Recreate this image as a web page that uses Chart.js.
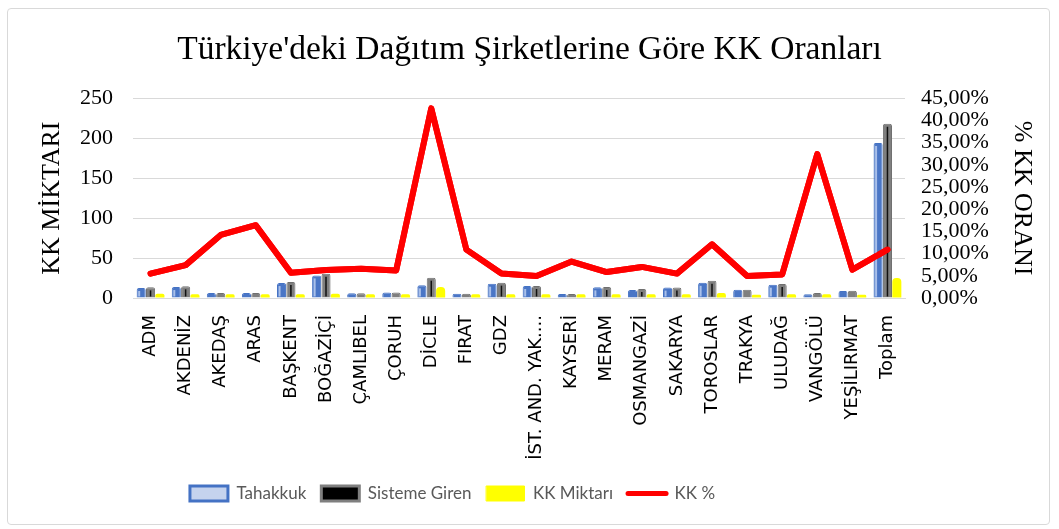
<!DOCTYPE html>
<html>
<head>
<meta charset="utf-8">
<title>KK Oranları</title>
<script src="https://cdn.jsdelivr.net/npm/chart.js@4.4.1/dist/chart.umd.min.js"></script>
<style>
  body { margin: 0; background: #fff; }
  #wrap { position: relative; width: 1059px; height: 529px; }
  #frame {
    position: absolute; left: 7px; top: 8px; width: 1041px; height: 515px;
    border: 1px solid #d9d9d9; border-radius: 4px; pointer-events: none;
  }
</style>
</head>
<body>
<div id="wrap">
  <canvas id="grafik" width="1059" height="529"></canvas>
  <div id="frame"></div>
</div>
<script>
// Şirketler (x ekseni)
const sirketler = ['ADM', 'AKDENİZ', 'AKEDAŞ', 'ARAS', 'BAŞKENT', 'BOĞAZİÇİ', 'ÇAMLIBEL', 'ÇORUH',
  'DİCLE', 'FIRAT', 'GDZ', 'İST. AND. YAK....', 'KAYSERİ', 'MERAM', 'OSMANGAZİ', 'SAKARYA',
  'TOROSLAR', 'TRAKYA', 'ULUDAĞ', 'VANGÖLÜ', 'YEŞİLIRMAT', 'Toplam'];

// Değerler (resimden okunan tahmini değerler)
const tahakkuk     = [12.5, 13.7, 6.2, 6.2, 18.7, 28.3, 5.8, 7, 15.8, 5.4, 17.9, 15, 5, 13.3, 10, 13, 19, 10.4, 16.7, 4.6, 8.7, 194];
const sistemeGiren = [13.3, 14.6, 6.2, 6.2, 20, 30.4, 5.8, 7, 25.4, 5.4, 19.2, 15, 5, 13.7, 11.2, 13, 21.7, 10.4, 17.5, 6.2, 9.2, 218];
const kkMiktari    = [5.4, 4.6, 4.6, 4.6, 4.6, 5.4, 4.6, 4.6, 13.7, 4.6, 4.6, 4.6, 4.6, 4.6, 4.6, 4.6, 6.2, 4.2, 4.6, 4.6, 4.2, 25];
const kkOrani      = [5.5, 7.4, 14.2, 16.4, 5.7, 6.3, 6.6, 6.2, 42.7, 10.9, 5.5, 4.95, 8.2, 5.85, 7.0, 5.5,
  12.1, 4.95, 5.3, 32.4, 6.4, 10.9];

// Eksen aralıkları
const solEksenMax = 250, solEksenAdim = 50;
const sagEksenMax = 45, sagEksenAdim = 5;

const serif = '"Liberation Serif", "Times New Roman", serif';

// Lejantı referanstaki gibi biraz sola kaydır
const lejantKaydir = {
  id: 'lejantKaydir',
  afterLayout(chart) {
    chart.legend.left -= 77;
    chart.legend.right -= 77;
  }
};

// Çubukların ortasındaki ince şerit (Excel'deki gölgeli görünüm)
const cubukSerit = {
  id: 'cubukSerit',
  afterDatasetsDraw(chart) {
    const ctx = chart.ctx;
    [[0, '#a9c0ea', -2, 2], [1, '#111111', 0, 1.5]].forEach(([idx, renk, kay, kalinlik]) => {
      chart.getDatasetMeta(idx).data.forEach(bar => {
        const h = bar.base - bar.y;
        if (h < 8) return;
        ctx.save();
        ctx.strokeStyle = renk;
        ctx.lineWidth = kalinlik;
        ctx.beginPath();
        ctx.moveTo(bar.x + kay, bar.y + 3);
        ctx.lineTo(bar.x + kay, bar.base - 1);
        ctx.stroke();
        ctx.restore();
      });
    });
    // çizgi en üstte kalsın
    chart.getDatasetMeta(3).controller.draw();
  }
};

new Chart(document.getElementById('grafik'), {
  data: {
    labels: sirketler,
    datasets: [
      {
        type: 'bar', label: 'Tahakkuk', data: tahakkuk, yAxisID: 'y', order: 1,
        backgroundColor: '#4a76c6', borderColor: '#4472C4', borderWidth: 1, borderRadius: 2,
        legendFill: '#c5d3ee', legendStroke: '#4472C4', legendLine: 3
      },
      {
        type: 'bar', label: 'Sisteme Giren', data: sistemeGiren, yAxisID: 'y', order: 1,
        backgroundColor: '#7f7f7f', borderColor: '#6f6f6f', borderWidth: 1, borderRadius: 2,
        legendFill: '#000000', legendStroke: '#7f7f7f', legendLine: 3
      },
      {
        type: 'bar', label: 'KK Miktarı', data: kkMiktari, yAxisID: 'y', order: 1,
        backgroundColor: '#ffff00', borderColor: '#ffff00', borderWidth: 0, borderRadius: 4,
        legendFill: '#ffff00', legendStroke: '#ffff00', legendLine: 1
      },
      {
        type: 'line', label: 'KK %', data: kkOrani, yAxisID: 'y1', order: 0,
        borderColor: '#ff0000', backgroundColor: '#ff0000', borderWidth: 6,
        pointRadius: 0, tension: 0, borderJoinStyle: 'round', borderCapStyle: 'round',
        legendFill: '#ff0000', legendStroke: '#ff0000', legendLine: 5
      }
    ]
  },
  options: {
    responsive: false,
    animation: false,
    layout: { padding: { left: 0, right: 0, top: 0, bottom: 17 } },
    datasets: { bar: { categoryPercentage: 0.8, barPercentage: 0.97 } },
    plugins: {
      title: {
        display: true,
        text: "Türkiye'deki Dağıtım Şirketlerine Göre KK Oranları",
        color: '#000',
        font: { family: serif, size: 33.5, weight: 'normal' },
        padding: { top: 30, bottom: 28 }
      },
      legend: {
        position: 'bottom',
        labels: {
          usePointStyle: true,
          pointStyleWidth: 38,
          boxHeight: 15,
          padding: 15,
          color: '#595959',
          font: { family: 'Lato, sans-serif', size: 17 },
          generateLabels: chart => chart.data.datasets.map((ds, i) => ({
            text: ds.label,
            datasetIndex: i,
            fillStyle: ds.legendFill,
            strokeStyle: ds.legendStroke,
            lineWidth: ds.legendLine,
            lineCap: 'round',
            pointStyle: ds.type === 'line' ? 'line' : 'rect',
            fontColor: '#595959',
            hidden: false
          }))
        }
      },
      tooltip: { enabled: false }
    },
    scales: {
      x: {
        grid: { display: false, drawTicks: false },
        border: { display: true, color: '#d9d9d9' },
        ticks: {
          autoSkip: false, minRotation: 90, maxRotation: 90, padding: 17, color: '#000',
          font: { family: '"DejaVu Sans", Verdana, sans-serif', size: 18 }
        },
        afterFit: s => { s.height = 172; }
      },
      y: {
        position: 'left',
        min: 0, max: solEksenMax,
        ticks: { stepSize: solEksenAdim, autoSkip: false, padding: 20, color: '#000', font: { family: serif, size: 22 } },
        grid: { color: '#d9d9d9', drawTicks: false },
        border: { display: false },
        title: {
          display: true, text: 'KK MİKTARI', color: '#000',
          font: { family: serif, size: 26 }, padding: { top: 37, bottom: 0 }
        },
        afterFit: s => { s.width = 133; }
      },
      y1: {
        position: 'right',
        min: 0, max: sagEksenMax,
        ticks: {
          stepSize: sagEksenAdim, autoSkip: false, padding: 16, color: '#000', font: { family: serif, size: 22 },
          callback: v => v.toFixed(2).replace('.', ',') + '%'
        },
        grid: { display: false, drawTicks: false },
        border: { display: false },
        title: {
          display: true, text: '% KK ORANI', color: '#000',
          font: { family: serif, size: 26 }, padding: { top: 22, bottom: 0 }
        },
        afterFit: s => { s.width = 154; }
      }
    }
  },
  plugins: [lejantKaydir, cubukSerit]
});
</script>
</body>
</html>
